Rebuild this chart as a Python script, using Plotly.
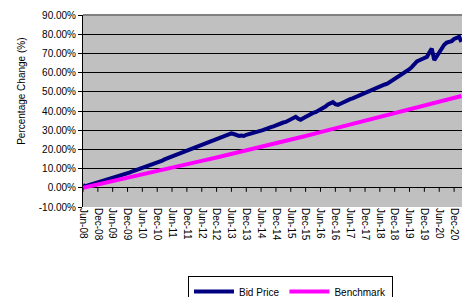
import plotly.graph_objects as go
import pandas as pd

# ---- data (percentage change, %) ----
bid_start = "2008-06-01"
bid_price = [
    1.5, 0.8, 1.2, 1.6, 2.0, 2.4, 3.0, 3.4, 3.8, 4.0, 4.3, 4.6,
    5.0, 5.3, 5.6, 6.0, 6.4, 6.9, 7.3, 8.0, 8.6, 9.0, 9.5, 9.9,
    10.6, 11.2, 11.6, 12.0, 12.4, 12.9, 13.2, 13.7, 14.2, 14.8, 15.3, 15.8,
    16.1, 16.8, 17.4, 17.6, 18.2, 18.8, 19.3, 19.6, 20.2, 20.8, 21.2, 21.7,
    22.2, 22.8, 23.3, 23.6, 24.0, 24.5, 24.9, 25.4, 26.0, 26.6, 27.2, 27.8,
    28.3, 28.0, 27.4, 27.0, 27.2, 27.0, 27.6, 27.9, 28.2, 28.6, 29.0, 29.3,
    29.8, 30.2, 30.8, 31.4, 31.6, 32.0, 32.6, 33.0, 33.5, 34.0, 34.3, 35.0,
    35.6, 36.2, 37.0, 36.0, 35.4, 36.2, 37.0, 37.8, 38.4, 39.0, 39.4, 40.0,
    40.6, 41.5, 42.3, 43.4, 44.2, 44.6, 43.6, 43.2, 43.8, 44.5, 45.0, 45.6,
    46.2, 46.6, 47.2, 47.8, 48.3, 48.8, 49.3, 50.0, 50.6, 50.8, 51.4, 52.0,
    52.6, 53.2, 53.8, 54.2, 55.0, 55.8, 56.6, 57.2, 58.0, 59.0, 60.0, 60.8,
    61.8, 63.0, 64.5, 65.8, 66.4, 66.8, 67.6, 68.2, 70.0, 72.5, 66.5, 68.5,
    70.5, 72.5, 74.5, 75.6, 76.0, 76.4, 77.5, 78.0, 78.6, 76.0,
]
bid_dates = pd.date_range(bid_start, periods=len(bid_price), freq="MS")

bench_dates = [
    "2008-06-01", "2008-12-01", "2009-06-01", "2009-12-01", "2010-06-01",
    "2010-12-01", "2011-06-01", "2011-12-01", "2012-06-01", "2012-12-01",
    "2013-06-01", "2013-12-01", "2014-06-01", "2014-12-01", "2015-06-01",
    "2015-12-01", "2016-06-01", "2016-12-01", "2017-06-01", "2017-12-01",
    "2018-06-01", "2018-12-01", "2019-06-01", "2019-12-01", "2020-06-01",
    "2020-12-01", "2021-03-01",
]
benchmark = [
    0.0, 1.7, 3.4, 5.1, 6.8, 8.6, 10.4, 12.2, 14.0, 15.8,
    17.6, 19.4, 21.3, 23.2, 25.1, 27.0, 29.0, 31.0, 33.0, 35.0,
    37.0, 39.1, 41.2, 43.3, 45.3, 47.0, 47.8,
]

x_tick_dates = bench_dates[:-1]
x_tick_labels = [
    "Jun-08", "Dec-08", "Jun-09", "Dec-09", "Jun-10", "Dec-10", "Jun-11",
    "Dec-11", "Jun-12", "Dec-12", "Jun-13", "Dec-13", "Jun-14", "Dec-14",
    "Jun-15", "Dec-15", "Jun-16", "Dec-16", "Jun-17", "Dec-17", "Jun-18",
    "Dec-18", "Jun-19", "Dec-19", "Jun-20", "Dec-20",
]
y_tick_values = [-10, 0, 10, 20, 30, 40, 50, 60, 70, 80, 90]
y_tick_labels = ["-10.00%", "0.00%", "10.00%", "20.00%", "30.00%", "40.00%",
                 "50.00%", "60.00%", "70.00%", "80.00%", "90.00%"]

FONT = "Liberation Sans, Arial, sans-serif"

fig = go.Figure()
fig.add_trace(go.Scatter(x=bid_dates, y=bid_price, mode="lines", name="Bid Price",
                         line=dict(color="#000080", width=4)))
fig.add_trace(go.Scatter(x=bench_dates, y=benchmark, mode="lines", name="Benchmark",
                         line=dict(color="#FF00FF", width=4)))

# small tick marks hanging below the 0% line
for d in x_tick_dates:
    fig.add_shape(type="line", xref="x", yref="y", x0=d, x1=d,
                  ysizemode="pixel", yanchor=0, y0=0, y1=-4,
                  line=dict(color="black", width=1))
# top border of plot area
fig.add_shape(type="line", xref="paper", yref="paper", x0=0, x1=1, y0=1, y1=1,
              line=dict(color="#808080", width=2))

fig.add_annotation(text="Percentage Change (%)", textangle=-90,
                   xref="paper", yref="paper", x=-0.161, y=0.605,
                   xanchor="center", yanchor="middle", showarrow=False,
                   font=dict(family=FONT, size=10, color="black"))

fig.update_layout(
    width=462, height=297,
    margin=dict(l=83, r=0, t=15, b=90, autoexpand=False),
    paper_bgcolor="white", plot_bgcolor="#C0C0C0",
    font=dict(family=FONT, size=10, color="black"),
    showlegend=True,
    legend=dict(orientation="h", x=0.277, xanchor="left", y=-0.36, yanchor="top",
                bgcolor="white", bordercolor="black", borderwidth=1,
                font=dict(family=FONT, size=10, color="black"),
                itemwidth=40, tracegroupgap=0),
)
fig.update_xaxes(type="date", range=["2008-06-01", "2021-03-08"], automargin=False,
                 tickvals=x_tick_dates, ticktext=x_tick_labels, tickangle=90,
                 showgrid=False, showline=False, ticks="", zeroline=False,
                 tickfont=dict(family=FONT, size=10, color="black"))
fig.update_yaxes(range=[-10, 90], tickvals=y_tick_values, ticktext=y_tick_labels,
                 automargin=False,
                 showgrid=True, gridcolor="black", gridwidth=1,
                 zeroline=True, zerolinecolor="black", zerolinewidth=1,
                 showline=True, linecolor="black", linewidth=1,
                 ticks="outside", ticklen=4, tickcolor="black",
                 tickfont=dict(family=FONT, size=10, color="black"))

fig.write_html("out.html", config={"displayModeBar": False},
               post_script="document.body.style.margin='0';document.body.style.overflow='hidden';")
